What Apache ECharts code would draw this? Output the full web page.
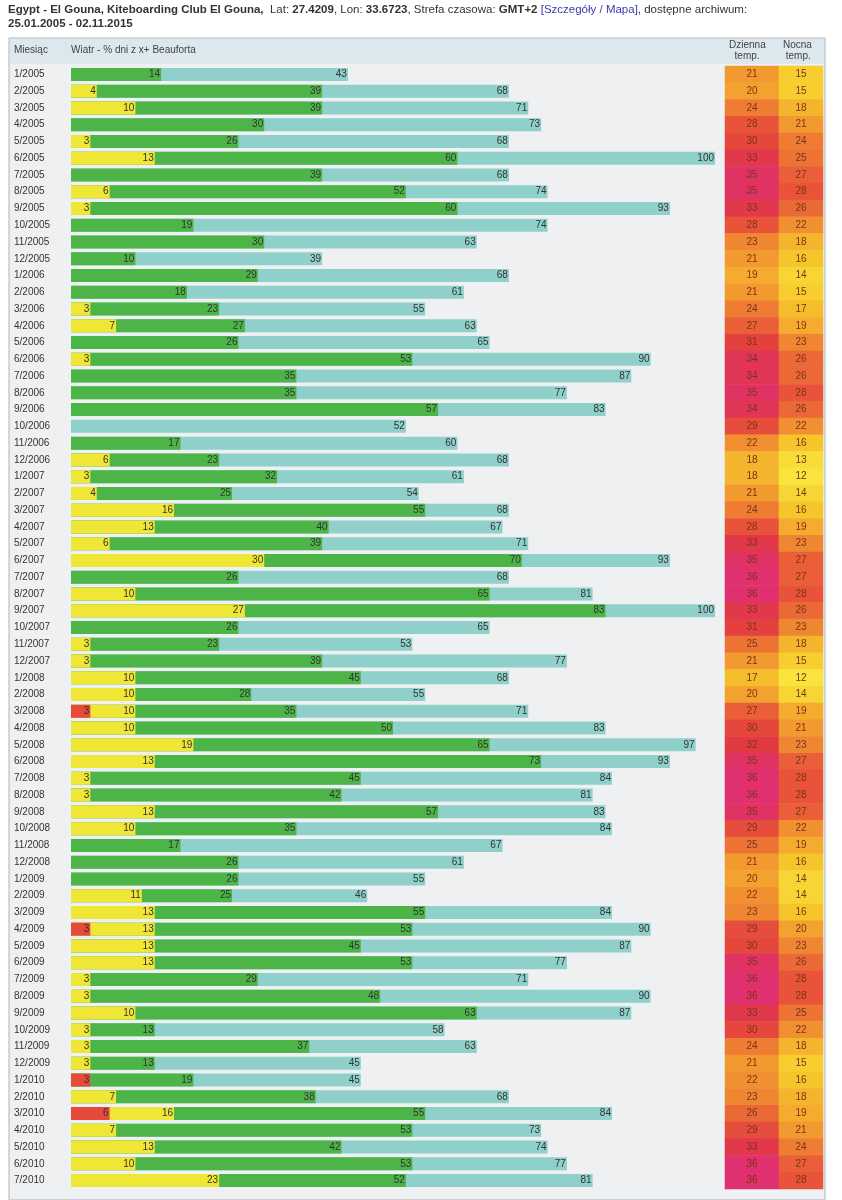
<!DOCTYPE html>
<html><head><meta charset="utf-8">
<script src="https://cdn.jsdelivr.net/npm/echarts@6/dist/echarts.min.js"></script>
<style>html,body{margin:0;padding:0;background:#fff}#c{width:842px;height:1200px}</style>
</head><body><div id="c"></div>
<script>
const months = ["1/2005","2/2005","3/2005","4/2005","5/2005","6/2005","7/2005","8/2005","9/2005","10/2005","11/2005","12/2005",
"1/2006","2/2006","3/2006","4/2006","5/2006","6/2006","7/2006","8/2006","9/2006","10/2006","11/2006","12/2006",
"1/2007","2/2007","3/2007","4/2007","5/2007","6/2007","7/2007","8/2007","9/2007","10/2007","11/2007","12/2007",
"1/2008","2/2008","3/2008","4/2008","5/2008","6/2008","7/2008","8/2008","9/2008","10/2008","11/2008","12/2008",
"1/2009","2/2009","3/2009","4/2009","5/2009","6/2009","7/2009","8/2009","9/2009","10/2009","11/2009","12/2009",
"1/2010","2/2010","3/2010","4/2010","5/2010","6/2010","7/2010"];
const cyan = [43,68,71,73,68,100,68,74,93,74,63,39, 68,61,55,63,65,90,87,77,83,52,60,68, 61,54,68,67,71,93,68,81,100,65,53,77, 68,55,71,83,97,93,84,81,83,84,67,61, 55,46,84,90,87,77,71,90,87,58,63,45, 45,68,84,73,74,77,81];
const green = [14,39,39,30,26,60,39,52,60,19,30,10, 29,18,23,27,26,53,35,35,57,0,17,23, 32,25,55,40,39,70,26,65,83,26,23,39, 45,28,35,50,65,73,45,42,57,35,17,26, 26,25,55,53,45,53,29,48,63,13,37,13, 19,38,55,53,42,53,52];
const yellow = [0,4,10,0,3,13,0,6,3,0,0,0, 0,0,3,7,0,3,0,0,0,0,0,6, 3,4,16,13,6,30,0,10,27,0,3,3, 10,10,10,10,19,13,3,3,13,10,0,0, 0,11,13,13,13,13,3,3,10,3,3,3, 0,7,16,7,13,10,23];
const red = [0,0,0,0,0,0,0,0,0,0,0,0, 0,0,0,0,0,0,0,0,0,0,0,0, 0,0,0,0,0,0,0,0,0,0,0,0, 0,0,3,0,0,0,0,0,0,0,0,0, 0,0,0,3,0,0,0,0,0,0,0,0, 3,0,6,0,0,0,0];
const dayTemp = [21,20,24,28,30,33,35,35,33,28,23,21, 19,21,24,27,31,34,34,35,34,29,22,18, 18,21,24,28,33,35,36,36,33,31,25,21, 17,20,27,30,32,35,36,36,35,29,25,21, 20,22,23,29,30,35,36,36,33,30,24,21, 22,23,26,29,33,36,36];
const nightTemp = [15,15,18,21,24,25,27,28,26,22,18,16, 14,15,17,19,23,26,26,28,26,22,16,13, 12,14,16,19,23,27,27,28,26,23,18,15, 12,14,19,21,23,27,28,28,27,22,19,16, 14,14,16,20,23,26,28,28,25,22,18,15, 16,18,19,21,24,27,28];

const FONT = '"Liberation Sans Narrow","Liberation Sans",Arial,sans-serif';
const TOP = 66, H = 1123;
const lbl = {show:true, position:'insideRight', distance:1, fontSize:10, fontFamily:FONT, color:'#333',
  formatter: p => p.value ? p.value : ''};
function bar(name, data, color){
  return {name, type:'bar', data, barWidth:13, barGap:'-100%', xAxisIndex:0, yAxisIndex:0,
    itemStyle:{color}, label:lbl, silent:true, animation:false};
}
function heat(idx, vals){
  return {type:'heatmap', xAxisIndex:idx, yAxisIndex:idx, data: vals.map((v,i)=>[0,i,v]),
    label:{show:true, fontSize:10, fontFamily:FONT, color:'#7a3418'}, animation:false};
}
const chart = echarts.init(document.getElementById('c'), null, {renderer:'canvas'});
chart.setOption({
  animation:false,
  graphic:[
    {type:'rect', shape:{x:9,y:38,width:816,height:1162}, style:{fill:'#eef0f2', stroke:'#a9b4bd', lineWidth:1}, z:-10},
    {type:'rect', shape:{x:10,y:39,width:814,height:25}, style:{fill:'#dde7ee'}, z:-9},
    {type:'text', left:8, top:4, style:{rich:{n:{font:'11.5px '+FONT, fill:'#333'}, b:{font:'bold 11.5px '+FONT, fill:'#333'}, a:{font:'11.5px '+FONT, fill:'#3b3bb0', textDecoration:'underline'}},
      text:'{b|Egypt - El Gouna, Kiteboarding Club El Gouna,}{n|  Lat: }{b|27.4209}{n|, Lon: }{b|33.6723}{n|, Strefa czasowa: }{b|GMT+2}{n| }{a|[Szczegóły / Mapa]}{n|, dostępne archiwum:}'}},
    {type:'text', left:8, top:18, style:{text:'25.01.2005 - 02.11.2015', font:'bold 11.5px '+FONT, fill:'#333'}},
    {type:'text', left:14, top:45, style:{text:'Miesiąc', font:'10px '+FONT, fill:'#444'}},
    {type:'text', left:71, top:45, style:{text:'Wiatr - % dni z x+ Beauforta', font:'10px '+FONT, fill:'#444'}},
    {type:'text', left:729, top:40, style:{text:'Dzienna\n  temp.', font:'10px '+FONT, fill:'#444', lineHeight:11}},
    {type:'text', left:783, top:40, style:{text:'Nocna\n temp.', font:'10px '+FONT, fill:'#444', lineHeight:11}}
  ],
  grid:[
    {left:71, width:644, top:TOP, height:H},
    {left:725, width:54, top:TOP, height:H},
    {left:779, width:44, top:TOP, height:H}
  ],
  xAxis:[
    {gridIndex:0, type:'value', min:0, max:100, show:false},
    {gridIndex:1, type:'category', data:['d'], show:false},
    {gridIndex:2, type:'category', data:['n'], show:false}
  ],
  yAxis:[
    {gridIndex:0, type:'category', data:months, inverse:true, axisLine:{show:false}, axisTick:{show:false},
      axisLabel:{align:'left', margin:57, fontSize:10, fontFamily:FONT, color:'#333'}},
    {gridIndex:1, type:'category', data:months, inverse:true, show:false},
    {gridIndex:2, type:'category', data:months, inverse:true, show:false}
  ],
  visualMap:{show:false, type:'continuous', min:12, max:36, seriesIndex:[4,5],
    inRange:{color:['#f8e43c','#f6c52b','#f3a22f','#ee7d33','#e8533a','#e13a40','#e0306f']}},
  series:[
    bar('cyan', cyan, '#8fd0cb'),
    bar('green', green, '#4db548'),
    bar('yellow', yellow, '#f0e636'),
    bar('red', red, '#e64b3a'),
    heat(1, dayTemp),
    heat(2, nightTemp)
  ]
});
</script></body></html>
